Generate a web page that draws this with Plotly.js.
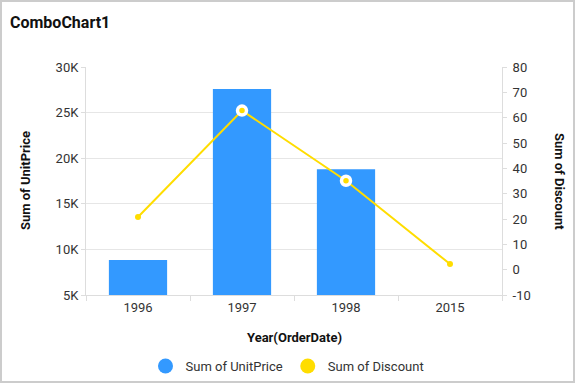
<!DOCTYPE html>
<html>
<head>
<meta charset="utf-8">
<script src="https://cdn.plot.ly/plotly-3.0.1.min.js"></script>
<style>
html,body{margin:0;padding:0;background:#fff;}
#wrap{position:relative;width:575px;height:383px;}
#chart{position:absolute;left:0;top:0;width:575px;height:383px;}
#frame{position:absolute;left:0;top:0;width:575px;height:383px;box-sizing:border-box;border:2px solid #cccccc;pointer-events:none;}
</style>
</head>
<body>
<div id="wrap"><div id="chart"></div><div id="frame"></div></div>
<script>
const years = ["1996", "1997", "1998", "2015"];
const unitPrice = [8850, 27600, 18800, 1200];
const discount = [20.8, 62.8, 35.1, 2.2];
const yLeftTicks = [5000, 10000, 15000, 20000, 25000, 30000];
const yLeftLabels = ["5K", "10K", "15K", "20K", "25K", "30K"];
const yRightTicks = [-10, 0, 10, 20, 30, 40, 50, 60, 70, 80];
const yRightLabels = ["-10", "0", "10", "20", "30", "40", "50", "60", "70", "80"];

const FONT = 'Roboto, "Open Sans", sans-serif';
const BLUE = '#3399ff';
const YELLOW = '#ffdd00';
const FS = 13;

const traces = [
  {
    type: 'bar', x: years, y: unitPrice, name: 'Sum of UnitPrice',
    marker: {color: BLUE}, showlegend: false
  },
  {
    type: 'scatter', mode: 'lines+markers', x: years, y: discount, yaxis: 'y2',
    name: 'Sum of Discount', showlegend: false,
    line: {color: YELLOW, width: 2},
    marker: {color: YELLOW, opacity: 1, size: [6, 9, 9, 6], line: {color: '#ffffff', width: [0, 3.5, 3.5, 0]}}
  },
  {
    type: 'scatter', mode: 'markers', x: [null], y: [null], name: 'Sum of UnitPrice',
    marker: {color: BLUE, size: 15, symbol: 'circle'}
  },
  {
    type: 'scatter', mode: 'markers', x: [null], y: [null], yaxis: 'y2', name: 'Sum of Discount',
    marker: {color: YELLOW, size: 15, symbol: 'circle'}
  }
];

const layout = {
  width: 575, height: 383,
  margin: {l: 86, r: 73, t: 67, b: 88},
  paper_bgcolor: '#ffffff', plot_bgcolor: '#ffffff',
  font: {family: FONT, size: FS, color: '#333333'},
  title: {
    text: '<b>ComboChart1</b>', x: 10/575, xanchor: 'left', xref: 'container',
    y: 1 - 22/383, yanchor: 'middle', yref: 'container',
    font: {family: FONT, size: 16, color: '#111111'}
  },
  bargap: 0.44,
  xaxis: {
    type: 'category', range: [-0.5, 3.5], tickson: 'boundaries',
    ticks: 'outside', ticklen: 5, tickcolor: '#dddddd',
    showline: true, linecolor: '#dddddd', linewidth: 1,
    showgrid: false, zeroline: false,
    tickfont: {family: FONT, size: FS, color: '#333333'},
    fixedrange: true
  },
  yaxis: {
    range: [5000, 30000], tickvals: yLeftTicks, ticktext: yLeftLabels,
    ticks: 'outside', ticklen: 4, tickcolor: '#dddddd',
    showline: true, linecolor: '#dddddd', linewidth: 1,
    showgrid: true, gridcolor: '#e6e6e6', zeroline: false,
    tickfont: {family: FONT, size: FS, color: '#333333'},
    fixedrange: true
  },
  yaxis2: {
    overlaying: 'y', side: 'right', range: [-10, 80], tickvals: yRightTicks, ticktext: yRightLabels,
    ticks: 'outside', ticklen: 4, tickcolor: '#dddddd', ticklabelstandoff: 3,
    showline: true, linecolor: '#dddddd', linewidth: 1,
    showgrid: false, zeroline: false,
    tickfont: {family: FONT, size: FS, color: '#333333'},
    fixedrange: true
  },
  legend: {
    orientation: 'h', x: 0.5, xanchor: 'center', xref: 'container',
    y: 1 - 366/383, yanchor: 'middle', yref: 'container',
    font: {family: FONT, size: FS, color: '#333333'},
    itemwidth: 30, tracegroupgap: 0
  },
  annotations: [
    {text: '<b>Year(OrderDate)</b>', xref: 'paper', yref: 'paper', x: 0.5, y: -42/228,
     xanchor: 'center', yanchor: 'middle', showarrow: false,
     font: {family: FONT, size: FS, color: '#111111'}},
    {text: '<b>Sum of UnitPrice</b>', xref: 'paper', yref: 'paper', x: (25-86)/416, y: 0.5,
     xanchor: 'center', yanchor: 'middle', showarrow: false, textangle: -90,
     font: {family: FONT, size: FS, color: '#111111'}},
    {text: '<b>Sum of Discount</b>', xref: 'paper', yref: 'paper', x: (560-86)/416, y: 0.5,
     xanchor: 'center', yanchor: 'middle', showarrow: false, textangle: 90,
     font: {family: FONT, size: FS, color: '#111111'}}
  ]
};

Plotly.newPlot('chart', traces, layout, {displayModeBar: false, staticPlot: true});
</script>
</body>
</html>
